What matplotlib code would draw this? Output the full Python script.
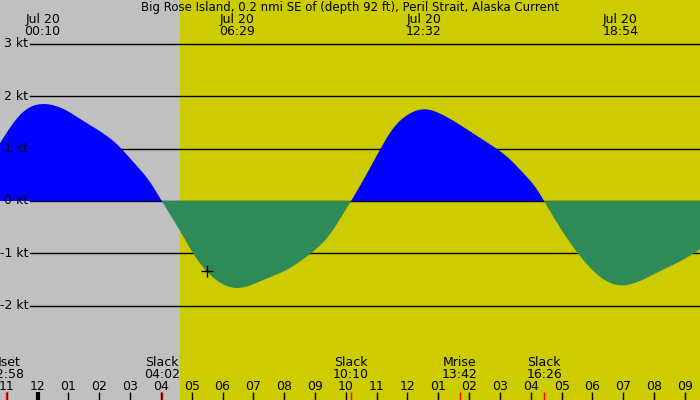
import numpy as np
import matplotlib
matplotlib.use("Agg")
import matplotlib.pyplot as plt

# current speed (kt) vs hours from midnight Jul 20
times = [-1.22, -0.89, -0.57, -0.24, 0.17, 0.96, 1.48, 2.03, 2.58, 3.10, 3.65, 4.03,
         4.62, 5.04, 5.50, 6.02, 6.48, 7.31, 8.09, 8.84, 9.49, 9.91, 10.17,
         10.68, 11.11, 11.53, 11.97, 12.53, 13.05, 13.60, 14.13, 14.68, 15.22, 15.76, 16.20, 16.43,
         17.06, 17.61, 18.15, 18.90, 19.64, 20.29, 20.94, 21.49]
speeds = [1.10, 1.40, 1.64, 1.79, 1.85, 1.72, 1.53, 1.33, 1.08, 0.75, 0.36, 0.0,
          -0.57, -0.99, -1.35, -1.59, -1.66, -1.51, -1.31, -1.01, -0.63, -0.25, 0.0,
          0.52, 0.98, 1.38, 1.63, 1.75, 1.67, 1.49, 1.29, 1.08, 0.85, 0.53, 0.22, 0.0,
          -0.61, -1.06, -1.40, -1.61, -1.50, -1.31, -1.12, -0.92]

title = "Big Rose Island, 0.2 nmi SE of (depth 92 ft), Peril Strait, Alaska Current"
peak_times = [0.167, 6.483, 12.533, 18.9]
peak_labels = ["00:10", "06:29", "12:32", "18:54"]
event_times = [-1.033, 4.033, 10.167, 13.7, 16.433]
event_names = ["Mset", "Slack", "Slack", "Mrise", "Slack"]
event_labels = ["22:58", "04:02", "10:10", "13:42", "16:26"]
hour_ticks = list(range(-1, 22))
hour_labels = ["11", "12", "01", "02", "03", "04", "05", "06", "07", "08", "09", "10",
               "11", "12", "01", "02", "03", "04", "05", "06", "07", "08", "09"]
kt_levels = [3, 2, 1, 0, -1, -2]
sunrise = 4.63
marker_time, marker_speed = 5.5, -1.34


def natural_spline(x, y, xs):
    x = np.asarray(x, float)
    y = np.asarray(y, float)
    n = len(x)
    h = np.diff(x)
    A = np.zeros((n, n))
    r = np.zeros(n)
    A[0, 0] = A[-1, -1] = 1.0
    for i in range(1, n - 1):
        A[i, i - 1] = h[i - 1]
        A[i, i] = 2 * (h[i - 1] + h[i])
        A[i, i + 1] = h[i]
        r[i] = 6 * ((y[i + 1] - y[i]) / h[i] - (y[i] - y[i - 1]) / h[i - 1])
    M = np.linalg.solve(A, r)
    idx = np.clip(np.searchsorted(x, xs) - 1, 0, n - 2)
    hi = h[idx]
    a = x[idx + 1] - xs
    b = xs - x[idx]
    return (M[idx] * a**3 / (6 * hi) + M[idx + 1] * b**3 / (6 * hi)
            + (y[idx] / hi - M[idx] * hi / 6) * a + (y[idx + 1] / hi - M[idx + 1] * hi / 6) * b)


x0, x1 = -1.217, 21.488
fig = plt.figure(figsize=(7, 4), dpi=100)
ax = fig.add_axes([0, 0, 1, 1])
ax.set_xlim(x0, x1)
ax.set_ylim(-3.798, 3.836)
ax.set_axis_off()

ax.axvspan(x0, sunrise, color="#c0c0c0", zorder=0)
ax.axvspan(sunrise, x1, color="#cccc00", zorder=0)

for lv in kt_levels:
    ax.axhline(lv, xmin=30 / 700, xmax=1, color="black", lw=1, zorder=1)
    ax.text(28 / 700, lv, f"{lv} kt", transform=ax.get_yaxis_transform(),
            ha="right", va="center", fontsize=9)

xs = np.linspace(x0, x1, 2000)
ys = natural_spline(times, speeds, xs)
ax.fill_between(xs, 0, ys, where=ys >= 0, color="#0000ff", lw=0, interpolate=True, zorder=2)
ax.fill_between(xs, 0, ys, where=ys <= 0, color="#2e8b57", lw=0, interpolate=True, zorder=2)
ax.plot([marker_time], [marker_speed], marker="+", color="black", ms=8, mew=1, zorder=3)

tr = ax.get_xaxis_transform()
ax.text(0.5, 1 - 7.5 / 400, title, transform=ax.transAxes, ha="center", va="center", fontsize=8.5)
for t, lab in zip(peak_times, peak_labels):
    ax.text(t, 1 - 19.5 / 400, "Jul 20", transform=tr, ha="center", va="center", fontsize=9)
    ax.text(t, 1 - 31.5 / 400, lab, transform=tr, ha="center", va="center", fontsize=9)

for t, lab in zip(hour_ticks, hour_labels):
    ax.plot([t, t], [0, 8 / 400], transform=tr, color="black",
            lw=3 if t == 0 else 1, zorder=3, solid_capstyle="butt")
    ax.text(t, 14 / 400, lab, transform=tr, ha="center", va="center", fontsize=9)

for t, name, lab in zip(event_times, event_names, event_labels):
    ax.plot([t, t], [0, 8 / 400], transform=tr, color="red", lw=1, zorder=4, solid_capstyle="butt")
    ax.text(t, 38 / 400, name, transform=tr, ha="center", va="center", fontsize=9)
    ax.text(t, 26 / 400, lab, transform=tr, ha="center", va="center", fontsize=9)

fig.savefig("out.png", dpi=100)
plt.close(fig)
